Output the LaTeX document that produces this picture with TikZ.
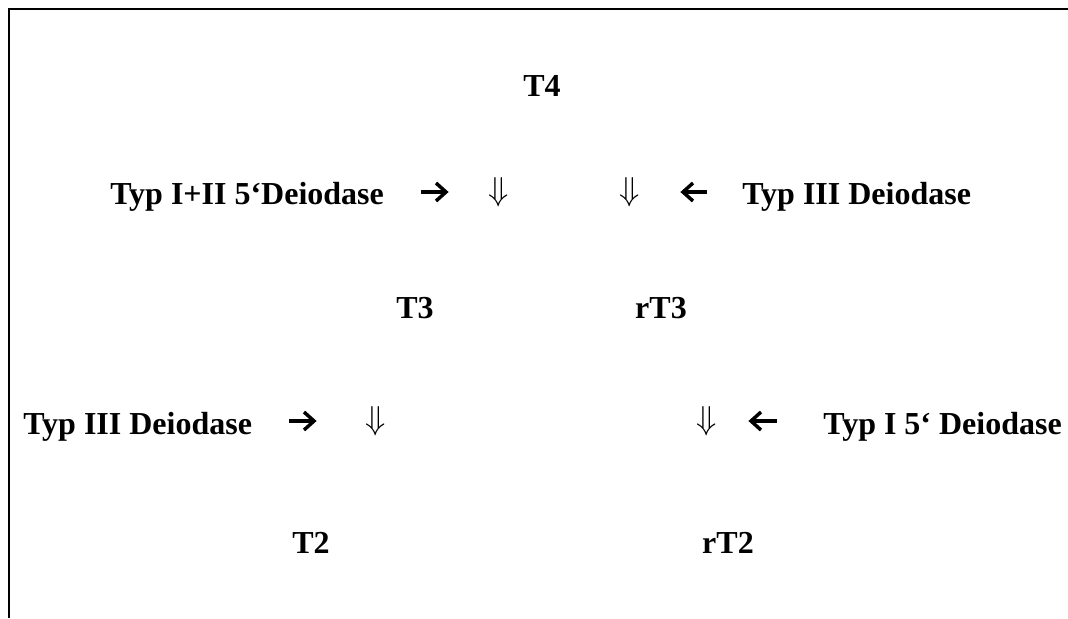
\documentclass[tikz,border=0pt]{standalone}
\usepackage{fontspec}
\setmainfont{Liberation Serif}
\usetikzlibrary{calc}
\begin{document}
\begin{tikzpicture}[x=0.75pt,y=-0.75pt,
  lbl/.style={inner sep=0pt, font=\bfseries\fontsize{24}{28}\selectfont},
  dn/.style={inner sep=0pt, font=\fontsize{27}{30}\selectfont},
  frame/.style={line width=2pt},
  harrow/.style={line width=2.6pt, miter limit=10}]
\useasboundingbox (0,0) rectangle (1068,618);
\draw[frame] (9,618) -- (9,9) -- (1068,9);
% texts
\node[lbl, anchor=base] (t4) at (542,96) {T4};
\node[lbl, anchor=base west] (e1) at (110,204) {Typ I+II 5‘Deiodase};
\node[lbl, anchor=base west] (e2) at (742,204) {Typ III Deiodase};
\node[lbl, anchor=base] (t3) at (415,318) {T3};
\node[lbl, anchor=base] (rt3) at (661,318) {rT3};
\node[lbl, anchor=base west] (e3) at (23,434) {Typ III Deiodase};
\node[lbl, anchor=base west] (e4) at (823,434) {Typ I 5‘ Deiodase};
\node[lbl, anchor=base] (t2) at (311,553) {T2};
\node[lbl, anchor=base] (rt2) at (728,553) {rT2};
% double down arrows
\node[dn] (d1) at (499,192) {$\Downarrow$};
\node[dn] (d2) at (630,192) {$\Downarrow$};
\node[dn] (d3) at (376,421) {$\Downarrow$};
\node[dn] (d4) at (707,421) {$\Downarrow$};
% bold arrows
\coordinate (a1s) at (421,192); \coordinate (a1e) at (446,192);
\coordinate (a2s) at (707,192); \coordinate (a2e) at (683,192);
\coordinate (a3s) at (289,421); \coordinate (a3e) at (314,421);
\coordinate (a4s) at (777,421); \coordinate (a4e) at (751,421);
\draw[harrow] (a1s) -- (a1e);
\draw[harrow] ($(a1e)+(-10,-9)$) -- (a1e) -- ($(a1e)+(-10,9)$);
\draw[harrow] (a2s) -- (a2e);
\draw[harrow] ($(a2e)+(10,-9)$) -- (a2e) -- ($(a2e)+(10,9)$);
\draw[harrow] (a3s) -- (a3e);
\draw[harrow] ($(a3e)+(-10,-9)$) -- (a3e) -- ($(a3e)+(-10,9)$);
\draw[harrow] (a4s) -- (a4e);
\draw[harrow] ($(a4e)+(10,-9)$) -- (a4e) -- ($(a4e)+(10,9)$);
\end{tikzpicture}
\end{document}
